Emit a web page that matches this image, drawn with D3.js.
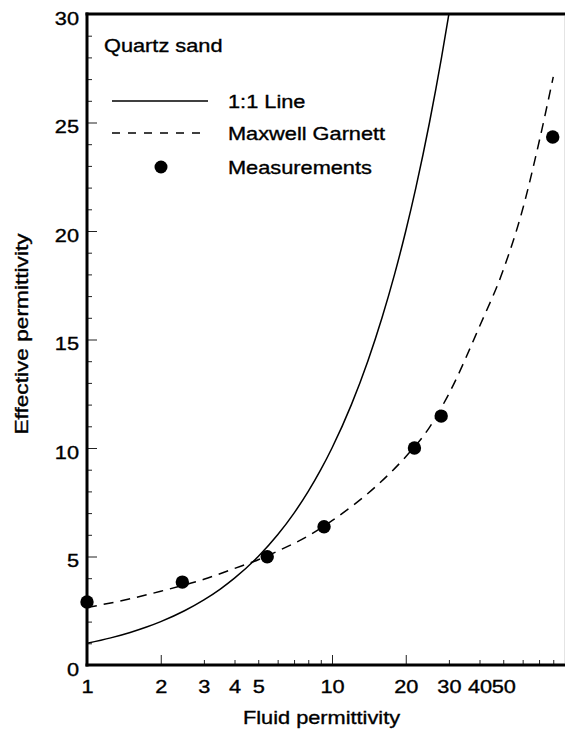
<!DOCTYPE html>
<html>
<head>
<meta charset="utf-8">
<script src="https://cdn.jsdelivr.net/npm/d3@7/dist/d3.min.js"></script>
<style>
  html, body { margin: 0; padding: 0; background: #fff; }
  svg { display: block; }
  text { font-family: "Liberation Sans", Arial, Helvetica, sans-serif; fill: #000; stroke: #000; stroke-width: 0.35px; }
</style>
</head>
<body>
<svg id="chart" width="565" height="733"></svg>
<script>
// ---------- data ----------
const panelTitle = "Quartz sand";
const xTitle = "Fluid permittivity";
const yTitle = "Effective permittivity";

// 1:1 line (effective = fluid)
const oneToOneX = [1, 1.25, 1.5, 1.75, 2, 2.5, 3, 3.5, 4, 5, 6, 7, 8, 9, 10, 12, 14, 16, 18, 20, 22, 25, 28, 30];
const oneToOneY = [1, 1.25, 1.5, 1.75, 2, 2.5, 3, 3.5, 4, 5, 6, 7, 8, 9, 10, 12, 14, 16, 18, 20, 22, 25, 28, 30];

// Maxwell Garnett curve
const mgX = [1, 1.5, 2, 3, 4, 5, 6, 8, 10, 15, 20, 25, 30, 40, 50, 60, 70, 80];
const mgY = [2.65, 3.05, 3.4, 3.95, 4.45, 4.85, 5.25, 5.95, 6.65, 8.2, 9.6, 10.95, 12.5, 15.6, 18.2, 21.0, 24.1, 27.1];

// Measurements
const measX = [1, 2.45, 5.44, 9.28, 21.7, 27.9, 79.6];
const measY = [2.9, 3.82, 4.99, 6.37, 10.0, 11.47, 24.33];

// ticks
const xMajorTicks = [1, 2, 10, 20, 100];
const xMinorTicks = [3, 4, 5, 6, 7, 8, 9, 30, 40, 50, 60, 70, 80, 90];
const xTickLabels = [1, 2, 3, 4, 5, 10, 20, 30, 40, 50];
const yMajorTicks = [0, 5, 10, 15, 20, 25, 30];
const yMinorTicks = d3.range(0, 31, 1);

const legendLabels = ["1:1 Line", "Maxwell Garnett", "Measurements"];

// ---------- layout ----------
const SX = 1.17;        // horizontal glyph stretch of the reference font
const FS = 18.6;
const pLeft = 87, pTop = 14, pBottom = 665, pRightEnd = 577;

const svg = d3.select("#chart");
const x = d3.scaleLog().domain([1, 100]).range([pLeft, pRightEnd]);
const y = d3.scaleLinear().domain([0, 30]).range([pBottom, pTop]);

function label(g, px, py, str, anchor, size, sx, rot) {
  return g.append("text")
    .attr("transform", `translate(${px},${py})` + (rot ? ` rotate(${rot})` : "") + ` scale(${sx},1)`)
    .attr("text-anchor", anchor || "start")
    .style("font-size", size + "px")
    .text(str);
}

// ---------- axes (ticks inward) ----------
const gx = svg.append("g").attr("transform", `translate(0,${pBottom})`);
gx.append("g").call(d3.axisBottom(x).tickValues(xMajorTicks).tickSize(-10).tickFormat(""));
gx.append("g").call(d3.axisBottom(x).tickValues(xMinorTicks).tickSize(-5).tickFormat(""));
const gxl = gx.append("g").call(d3.axisBottom(x).tickValues(xTickLabels).tickSize(0).tickFormat(d3.format("d")));
gx.selectAll(".domain").remove();
gx.selectAll(".tick line").attr("stroke", "#222").attr("stroke-width", 1);
gxl.selectAll(".tick text")
  .attr("y", 28.5).attr("dy", 0)
  .attr("transform", `scale(${SX},1)`)
  .style("font-size", FS + "px")
  .style("font-family", '"Liberation Sans", Arial, sans-serif')
  .attr("fill", "#000");

const gy = svg.append("g").attr("transform", `translate(${pLeft},0)`);
gy.append("g").call(d3.axisLeft(y).tickValues(yMajorTicks).tickSize(-10).tickFormat(""));
gy.append("g").call(d3.axisLeft(y).tickValues(yMinorTicks.filter(v => v % 5 !== 0)).tickSize(-5).tickFormat(""));
const gyl = gy.append("g").call(d3.axisLeft(y).tickValues(yMajorTicks).tickSize(0).tickFormat(d3.format("d")));
gy.selectAll(".domain").remove();
gy.selectAll(".tick line").attr("stroke", "#222").attr("stroke-width", 1);
gyl.selectAll(".tick text")
  .attr("x", -8 / SX).attr("y", 10).attr("dy", 0)
  .attr("transform", `scale(${SX},1)`)
  .style("font-size", FS + "px")
  .style("font-family", '"Liberation Sans", Arial, sans-serif')
  .attr("fill", "#000");

// ---------- curves ----------
const plot = svg.append("g");
plot.append("defs").append("clipPath").attr("id", "clip")
  .append("rect").attr("x", pLeft).attr("y", pTop).attr("width", pRightEnd - pLeft).attr("height", pBottom - pTop);

const lineGen = d3.line().x(d => x(d[0])).y(d => y(d[1])).curve(d3.curveMonotoneX);

plot.append("path")
  .datum(oneToOneX.map((v, i) => [v, oneToOneY[i]]))
  .attr("clip-path", "url(#clip)")
  .attr("fill", "none").attr("stroke", "#000").attr("stroke-width", 1.5)
  .attr("d", lineGen);

plot.append("path")
  .datum(mgX.map((v, i) => [v, mgY[i]]))
  .attr("clip-path", "url(#clip)")
  .attr("fill", "none").attr("stroke", "#000").attr("stroke-width", 1.5)
  .attr("stroke-dasharray", "10,7")
  .attr("d", lineGen);

plot.selectAll("circle.meas")
  .data(measX.map((v, i) => [v, measY[i]]))
  .join("circle").attr("class", "meas")
  .attr("cx", d => x(d[0])).attr("cy", d => y(d[1]))
  .attr("r", 6.7).attr("fill", "#000");

// ---------- frame ----------
svg.append("line").attr("x1", pLeft).attr("x2", pLeft).attr("y1", pTop - 1.5).attr("y2", pBottom + 1.5)
  .attr("stroke", "#000").attr("stroke-width", 3);
svg.append("line").attr("x1", pLeft - 1.5).attr("x2", 565).attr("y1", pTop).attr("y2", pTop)
  .attr("stroke", "#000").attr("stroke-width", 3);
svg.append("line").attr("x1", pLeft - 1.5).attr("x2", 565).attr("y1", pBottom).attr("y2", pBottom)
  .attr("stroke", "#000").attr("stroke-width", 3);
svg.append("line").attr("x1", 564.5).attr("x2", 564.5).attr("y1", pTop + 2).attr("y2", pBottom - 2)
  .attr("stroke", "#e4e4e4").attr("stroke-width", 1);

// ---------- texts ----------
label(svg, 104, 52, panelTitle, "start", FS, SX);
label(svg, 321.5, 724, xTitle, "middle", FS, SX);
label(svg, 27.5, 334, yTitle, "middle", FS, 1.22, -90);

// ---------- legend ----------
const leg = svg.append("g");
const legY = [101, 133, 167];
leg.append("line").attr("x1", 112).attr("x2", 208).attr("y1", legY[0]).attr("y2", legY[0])
  .attr("stroke", "#000").attr("stroke-width", 1.5);
leg.append("line").attr("x1", 112).attr("x2", 208).attr("y1", legY[1]).attr("y2", legY[1])
  .attr("stroke", "#000").attr("stroke-width", 1.5).attr("stroke-dasharray", "8,8");
leg.append("circle").attr("cx", 161).attr("cy", legY[2]).attr("r", 6.5).attr("fill", "#000");
legendLabels.forEach((t, i) => label(leg, 228, legY[i] + 7, t, "start", FS, SX));
</script>
</body>
</html>
